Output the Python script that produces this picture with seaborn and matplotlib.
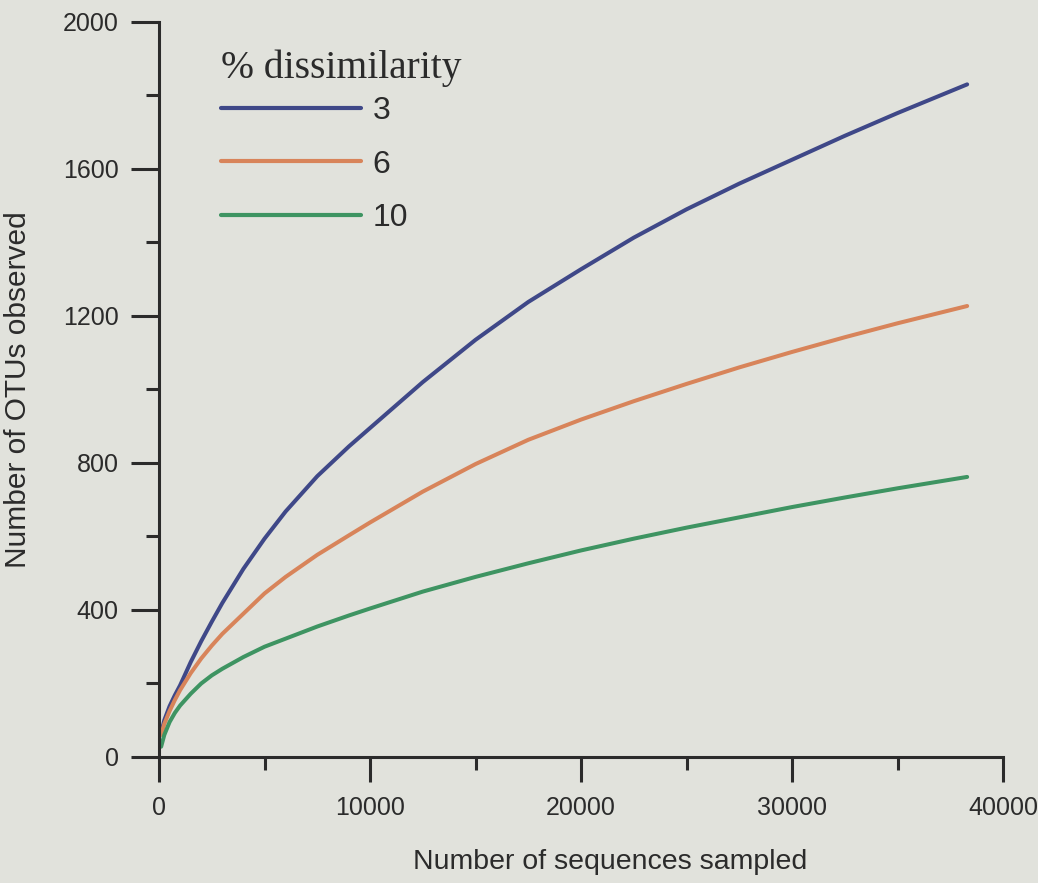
import matplotlib
matplotlib.use("Agg")
import matplotlib.pyplot as plt
import seaborn as sns
import pandas as pd
from matplotlib.ticker import MultipleLocator

# ---- data ----
sequences = [100, 250, 500, 750, 1000, 1500, 2000, 2500, 3000, 4000, 5000, 6000,
             7500, 9000, 10000, 12500, 15000, 17500, 20000, 22500, 25000, 27500,
             30000, 32500, 35000, 38300]
otus_3 = [65, 100, 138, 168, 195, 258, 315, 368, 419, 512, 594, 668,
          764, 845, 895, 1020, 1135, 1238, 1327, 1413, 1490, 1560,
          1625, 1690, 1752, 1830]
otus_6 = [60, 90, 125, 155, 182, 228, 268, 303, 335, 390, 445, 490,
          550, 603, 638, 722, 797, 863, 918, 968, 1015, 1060,
          1102, 1142, 1180, 1227]
otus_10 = [28, 60, 95, 120, 140, 172, 200, 222, 240, 272, 300, 322,
           355, 385, 404, 450, 490, 527, 562, 594, 624, 652,
           680, 706, 731, 762]
levels = ["3", "6", "10"]
colors = ["#3f4888", "#d8845a", "#3e9462"]
x_ticks = [0, 10000, 20000, 30000, 40000]
y_ticks = [0, 400, 800, 1200, 1600, 2000]

df = pd.concat([
    pd.DataFrame({"seq": sequences, "otus": vals, "diss": lvl})
    for lvl, vals in zip(levels, [otus_3, otus_6, otus_10])
])

sns.set_theme(style="ticks")
plt.rcParams["font.family"] = ["Liberation Sans", "DejaVu Sans"]
bg = "#e1e2dc"
ink = "#2b2b2b"

fig = plt.figure(figsize=(10.38, 8.83), dpi=100, facecolor=bg)
ax = fig.add_axes([0.1532, 0.1427, 0.8131, 0.8325], facecolor=bg)

sns.lineplot(data=df, x="seq", y="otus", hue="diss", hue_order=levels,
             palette=colors, linewidth=2.9, ax=ax, legend=True)

ax.set_xlim(0, 40000)
ax.set_ylim(0, 2000)
ax.set_xticks(x_ticks)
ax.set_yticks(y_ticks)
ax.xaxis.set_minor_locator(MultipleLocator(5000))
ax.yaxis.set_minor_locator(MultipleLocator(200))
ax.set_xticklabels([str(v) for v in x_ticks])
ax.set_yticklabels([str(v) for v in y_ticks])

for s in ["top", "right"]:
    ax.spines[s].set_visible(False)
for s in ["left", "bottom"]:
    ax.spines[s].set_linewidth(2.2)
    ax.spines[s].set_color(ink)

ax.tick_params(axis="y", which="major", direction="out", length=20, width=2.2,
               color=ink, labelsize=18, labelcolor=ink, pad=9)
ax.tick_params(axis="y", which="minor", direction="out", length=9.5, width=2.2, color=ink)
ax.tick_params(axis="x", which="major", direction="out", length=18, width=2.2,
               color=ink, labelsize=18, labelcolor=ink, pad=10)
ax.tick_params(axis="x", which="minor", direction="out", length=9.5, width=2.2, color=ink)

ax.set_xlabel("Number of sequences sampled", fontsize=20.5, color=ink)
ax.set_ylabel("Number of OTUs observed", fontsize=21.5, color=ink)
ax.xaxis.set_label_coords(0.534, -0.143)
ax.xaxis.label.set_va("center")
ax.yaxis.set_label_coords(-0.167, 0.5)
ax.yaxis.label.set_va("center")

handles, labels = ax.get_legend_handles_labels()
leg = ax.legend(handles, labels, title="% dissimilarity", loc="upper left",
                bbox_to_anchor=(0.073, 0.962), frameon=False, fontsize=23,
                handlelength=4.4, handletextpad=0.35, labelspacing=0.73,
                borderpad=0, borderaxespad=0, alignment="left")
leg.get_title().set_fontfamily(["Liberation Serif", "DejaVu Serif"])
leg.get_title().set_fontsize(28.5)
leg.get_title().set_color(ink)
leg._legend_box.sep = 6.5
for t in leg.get_texts():
    t.set_color(ink)
for h in leg.get_lines():
    h.set_linewidth(3.0)

fig.savefig("out.png", dpi=100, facecolor=bg)
